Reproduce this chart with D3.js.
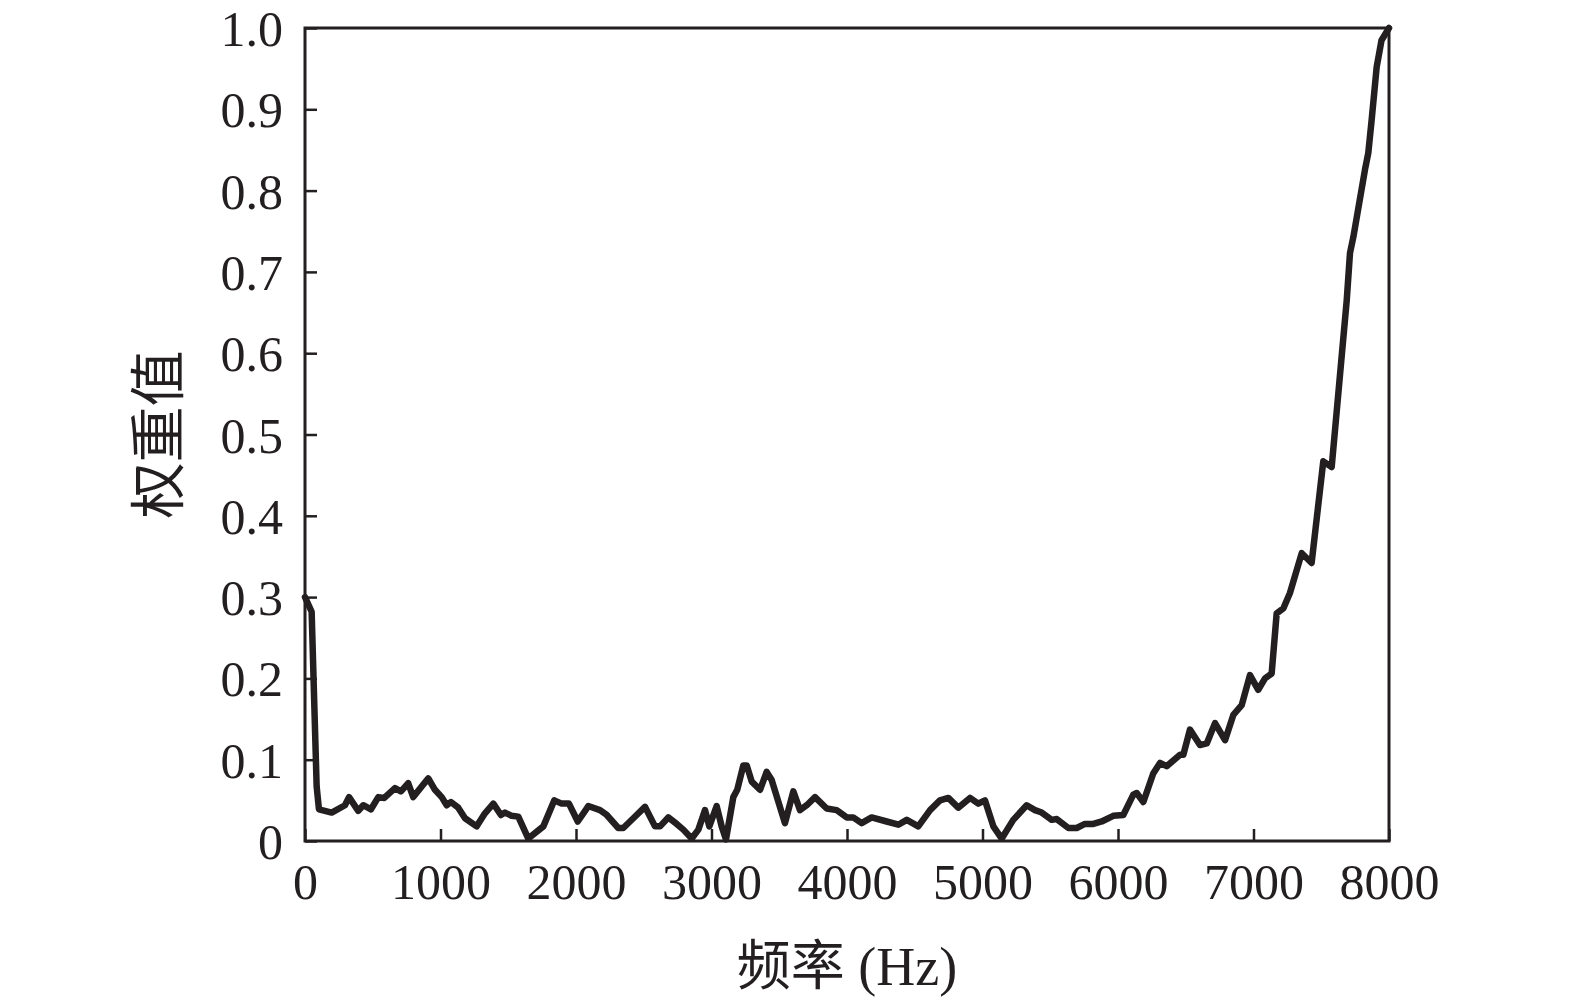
<!DOCTYPE html>
<html>
<head>
<meta charset="utf-8">
<script src="https://cdn.jsdelivr.net/npm/d3@7"></script>
<style>
  html, body { margin: 0; padding: 0; background: #ffffff; }
  svg { display: block; }
</style>
</head>
<body>
<svg id="chart" width="1575" height="1007"></svg>
<script>
// ---- data ----
const freq = [0, 49, 86, 103, 197, 295, 325, 393, 430, 487, 541, 585, 664, 708, 762, 799, 861, 910, 959,
  1009, 1046, 1077, 1131, 1181, 1267, 1328, 1390, 1446, 1476, 1525, 1574, 1648, 1759, 1840, 1894, 1948,
  2013, 2091, 2177, 2227, 2312, 2349, 2423, 2509, 2583, 2620, 2681, 2743, 2792, 2854, 2903, 2952, 2984,
  3038, 3075, 3107, 3161, 3190, 3235, 3260, 3297, 3358, 3407, 3444, 3542, 3604, 3653, 3703, 3764, 3850,
  3924, 3998, 4046, 4108, 4182, 4293, 4379, 4441, 4526, 4613, 4686, 4748, 4821, 4908, 4969, 5018, 5080,
  5142, 5227, 5326, 5387, 5437, 5511, 5548, 5634, 5695, 5756, 5818, 5880, 5965, 6039, 6113, 6138, 6187,
  6260, 6310, 6359, 6458, 6482, 6531, 6605, 6655, 6716, 6790, 6851, 6913, 6974, 7035, 7085, 7134, 7171,
  7220, 7269, 7356, 7429, 7515, 7577, 7688, 7712, 7737, 7823, 7847, 7872, 7909, 7945, 8000];
const weight = [0.300, 0.282, 0.067, 0.039, 0.035, 0.044, 0.054, 0.037, 0.044, 0.039, 0.054, 0.053, 0.065,
  0.061, 0.071, 0.054, 0.067, 0.077, 0.063, 0.054, 0.044, 0.048, 0.041, 0.028, 0.018, 0.034, 0.046, 0.032,
  0.035, 0.031, 0.030, 0.003, 0.018, 0.050, 0.046, 0.046, 0.024, 0.043, 0.038, 0.032, 0.016, 0.016, 0.028,
  0.042, 0.018, 0.018, 0.029, 0.021, 0.014, 0.003, 0.014, 0.038, 0.018, 0.043, 0.018, 0.002, 0.054, 0.063,
  0.093, 0.093, 0.073, 0.063, 0.085, 0.075, 0.022, 0.061, 0.038, 0.044, 0.054, 0.040, 0.038, 0.029, 0.029,
  0.022, 0.029, 0.024, 0.020, 0.026, 0.018, 0.038, 0.050, 0.053, 0.041, 0.053, 0.046, 0.050, 0.018, 0.003,
  0.026, 0.044, 0.038, 0.035, 0.026, 0.027, 0.016, 0.016, 0.021, 0.021, 0.024, 0.031, 0.032, 0.057, 0.059,
  0.048, 0.083, 0.096, 0.092, 0.106, 0.106, 0.137, 0.118, 0.120, 0.145, 0.124, 0.155, 0.167, 0.204, 0.186,
  0.200, 0.206, 0.280, 0.286, 0.305, 0.354, 0.342, 0.467, 0.460, 0.665, 0.723, 0.743, 0.826, 0.846, 0.887,
  0.952, 0.985, 1.000];
const xTicks = [0, 1000, 2000, 3000, 4000, 5000, 6000, 7000, 8000];
const yTicks = [0, 0.1, 0.2, 0.3, 0.4, 0.5, 0.6, 0.7, 0.8, 0.9, 1.0];
const xTitle = "频率 (Hz)";
const yTitle = "权重值";

// ---- layout ----
const svg = d3.select("#chart");
const pLeft = 305, pRight = 1389, pTop = 28, pBottom = 841;
const ink = "#231f20";
const font = "'Liberation Serif', 'Times New Roman', 'Noto Sans CJK SC', serif";

const x = d3.scaleLinear().domain([0, 8000]).range([pLeft, pRight]);
const y = d3.scaleLinear().domain([0, 1]).range([pBottom, pTop]);

// frame
svg.append("rect")
  .attr("x", pLeft).attr("y", pTop)
  .attr("width", pRight - pLeft).attr("height", pBottom - pTop)
  .attr("fill", "none").attr("stroke", ink).attr("stroke-width", 3);

// axes with inward ticks
const xAxis = d3.axisBottom(x).tickValues(xTicks).tickSizeInner(-12).tickSizeOuter(0)
  .tickPadding(22).tickFormat(d3.format("d"));
const gx = svg.append("g").attr("transform", `translate(0,${pBottom})`).call(xAxis);

const yAxis = d3.axisLeft(y).tickValues(yTicks).tickSizeInner(-12).tickSizeOuter(0)
  .tickPadding(22).tickFormat(d => d === 0 ? "0" : d3.format(".1f")(d));
const gy = svg.append("g").attr("transform", `translate(${pLeft},0)`).call(yAxis);

[gx, gy].forEach(g => {
  g.select(".domain").remove();
  g.selectAll(".tick line").attr("stroke", ink).attr("stroke-width", 2.5);
  g.selectAll(".tick text").attr("fill", ink).style("font-family", font).style("font-size", "50px");
});
gx.selectAll(".tick text").attr("dy", "0.71em");
gy.selectAll(".tick text").attr("dy", "0.35em");

// line
const line = d3.line()
  .x((d, i) => x(freq[i]))
  .y((d, i) => y(weight[i]))
  .curve(d3.curveLinear);

svg.append("path")
  .datum(weight)
  .attr("d", line)
  .attr("fill", "none")
  .attr("stroke", ink)
  .attr("stroke-width", 6.5)
  .attr("stroke-linejoin", "round")
  .attr("stroke-linecap", "round");

// axis titles
svg.append("text")
  .attr("x", (pLeft + pRight) / 2).attr("y", 985)
  .attr("text-anchor", "middle")
  .attr("fill", ink)
  .style("font-family", font).style("font-size", "54px")
  .text(xTitle);

svg.append("text")
  .attr("transform", `translate(178,${(pTop + pBottom) / 2}) rotate(-90)`)
  .attr("text-anchor", "middle")
  .attr("fill", ink)
  .style("font-family", font).style("font-size", "56px")
  .text(yTitle);
</script>
</body>
</html>
